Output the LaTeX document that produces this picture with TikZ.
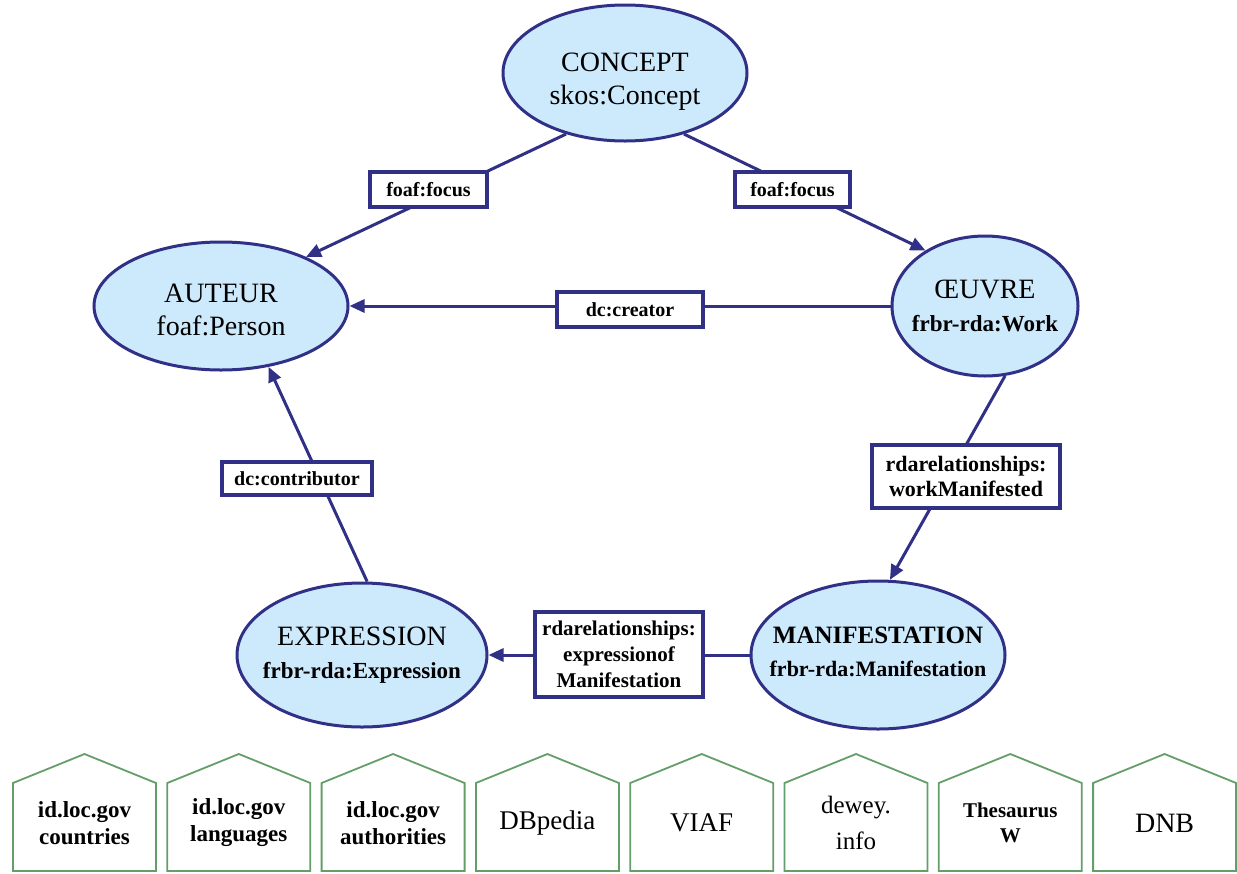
\documentclass[tikz,border=0pt]{standalone}
\usepackage{fontspec}
\setmainfont{Liberation Serif}
\usetikzlibrary{shapes.geometric,arrows.meta}
\definecolor{navy}{RGB}{48,48,135}
\definecolor{ellfill}{RGB}{205,233,252}
\definecolor{housegreen}{RGB}{100,158,105}
\begin{document}
\begin{tikzpicture}[x=1pt,y=-1pt,
  ent/.style={ellipse, draw=navy, line width=3pt, fill=ellfill, inner sep=0pt},
  enttext/.style={align=center, inner sep=0pt, font=\fontsize{28}{33}\selectfont},
  lbl/.style={draw=navy, line width=3.5pt, fill=white, align=center, inner sep=0pt,
              font=\bfseries\fontsize{20}{25}\selectfont},
  arr/.style={draw=navy, line width=3pt, -{Triangle[length=15pt,width=13pt]}},
  house/.style={draw=housegreen, line width=1.8pt, fill=white},
  htext/.style={align=center, inner sep=0pt}]
\useasboundingbox (0,0) rectangle (1237,873);
\fill[white] (0,0) rectangle (1237,873);

% entities
\node[ent, minimum width=244pt, minimum height=136pt] (concept) at (625,73) {};
\node[ent, minimum width=254pt, minimum height=128pt] (auteur) at (221,306) {};
\node[ent, minimum width=186pt, minimum height=140pt] (oeuvre) at (985,306) {};
\node[ent, minimum width=250pt, minimum height=144pt] (expr) at (362,655) {};
\node[ent, minimum width=254pt, minimum height=148pt] (manif) at (878,655) {};

\node[enttext] (concept-t) at (625,82) {CONCEPT\\skos:Concept};
\node[enttext] (auteur-t) at (221,310) {AUTEUR\\foaf:Person};
\node[enttext] (oeuvre-t) at (985,306) {ŒUVRE\\\textbf{\fontsize{23}{33}\selectfont frbr-rda:Work}};
\node[enttext] (expr-t) at (362,655) {EXPRESSION\\\textbf{\fontsize{23}{33}\selectfont frbr-rda:Expression}};
\node[enttext] (manif-t) at (878,652) {\textbf{\fontsize{25}{33}\selectfont MANIFESTATION}\\\textbf{\fontsize{22}{33}\selectfont frbr-rda:Manifestation}};

% connectors
\draw[arr] (concept.-134) -- (auteur.30);
\draw[arr] (concept.-46) -- (oeuvre.137);
\draw[arr] (oeuvre.west) -- (auteur.east);
\draw[arr] (oeuvre.-74) -- (manif.81);
\draw[arr] (manif.west) -- (expr.east);
\draw[arr] (expr.86) -- (auteur.-52);

% labels
\node[lbl, minimum width=117pt, minimum height=35pt] (l1) at (428.5,189.5) {foaf:focus};
\node[lbl, minimum width=115pt, minimum height=35pt] (l2) at (792.5,189.5) {foaf:focus};
\node[lbl, minimum width=146pt, minimum height=35pt] (l3) at (630,309.5) {dc:creator};
\node[lbl, minimum width=150pt, minimum height=33pt] (l4) at (297,478.5) {dc:contributor};
\node[lbl, minimum width=188pt, minimum height=63pt, font=\bfseries\fontsize{22}{25}\selectfont] (l5) at (966,476.5) {rdarelationships:\\workManifested};
\node[lbl, minimum width=168pt, minimum height=85pt, font=\bfseries\fontsize{21}{26}\selectfont] (l6) at (619,654.5) {rdarelationships:\\expressionof\\Manifestation};

% houses
\foreach \i/\txt/\fnt in {
  0/{id.loc.gov\\countries}/\bfseries\fontsize{23}{27}\selectfont,
  1/{id.loc.gov\\languages}/\bfseries\fontsize{23}{27}\selectfont,
  2/{id.loc.gov\\authorities}/\bfseries\fontsize{23}{27}\selectfont,
  3/{DBpedia}/\fontsize{27}{30}\selectfont,
  4/{VIAF}/\fontsize{27}{30}\selectfont,
  5/{dewey.\\info}/\fontsize{25}{36}\selectfont,
  6/{Thesaurus\\W}/\bfseries\fontsize{21}{25}\selectfont,
  7/{DNB}/\fontsize{28}{30}\selectfont} {
  \pgfmathsetmacro{\l}{13+154.3*\i}
  \draw[house] (\l,871) -- (\l,783) -- (\l+71.5,754) -- (\l+143,783) -- (\l+143,871) -- cycle;
  \node[htext, font=\fnt] (h\i) at (\l+71.5,823) {\txt};
}
\end{tikzpicture}
\end{document}
